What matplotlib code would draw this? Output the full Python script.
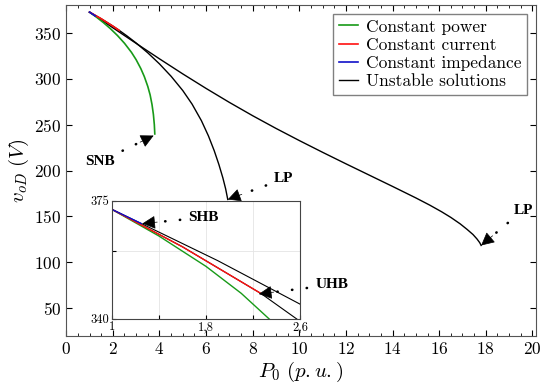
import numpy as np
import matplotlib.pyplot as plt
from matplotlib.lines import Line2D

plt.rcParams['font.family'] = 'serif'
plt.rcParams['font.serif'] = ['cmr10', 'DejaVu Serif']
plt.rcParams['mathtext.fontset'] = 'cm'
plt.rcParams['axes.formatter.use_mathtext'] = True

# main curves: P0 (p.u.) and v_oD (V)
p_cp = [1.0, 1.3, 1.6, 1.9, 2.2, 2.5, 2.8, 3.0, 3.2, 3.35, 3.5, 3.6, 3.68, 3.74, 3.78, 3.80]
v_cp = [372.3, 366.8, 360.8, 354.2, 346.8, 338.4, 328.5, 320.5, 310.9, 302.2, 291.4, 282.2,
        271.8, 261.0, 249.8, 239.8]

p_ci = [1.0, 1.5, 2.0, 2.27, 2.6, 3.0, 3.5, 4.0, 4.5, 5.0, 5.4, 5.8, 6.1, 6.35, 6.55, 6.72,
        6.84, 6.93]
v_ci = [372.3, 365.1, 357.1, 352.5, 346.5, 338.7, 328.0, 316.0, 302.5, 287.0, 272.2, 254.2,
        237.7, 221.5, 206.5, 192.0, 180.0, 168.5]
ci_stable = 4  # points up to UHB

p_cz = [1.0, 1.25, 2, 3, 4, 5, 6, 7, 8, 9, 10, 11, 12, 13, 14, 15, 15.6, 16.1, 16.5, 16.9,
        17.2, 17.45, 17.62, 17.74, 17.8]
v_cz = [372.3, 368.1, 355.3, 338.3, 321.5, 305.1, 289.3, 274.1, 259.6, 245.8, 232.6, 219.8,
        207.3, 195.0, 182.7, 170.2, 162.3, 155.2, 149.0, 142.0, 135.9, 130.4, 125.6, 121.5, 118.5]
cz_stable = 2  # points up to SHB

# inset (zoom near P0 = 1)
ins_p_cp = [1.0, 1.4, 1.8, 2.1, 2.35]
ins_v_cp = [372.4, 364.5, 355.5, 347.5, 339.5]
ins_p_ci = [1.0, 1.6, 2.27, 2.6]
ins_v_ci = [372.4, 361.3, 347.4, 339.2]
ins_p_cz = [1.0, 1.25, 1.9, 2.6]
ins_v_cz = [372.4, 368.2, 357.2, 344.3]

green = '#189a18'
red = '#ff1010'
blue = '#1010c8'

fig = plt.figure(figsize=(5.5, 3.88), dpi=100)
ax = fig.add_axes([0.1204, 0.134, 0.854, 0.853])

ax.plot(p_ci, v_ci, color='k', lw=1.0)
ax.plot(p_cz, v_cz, color='k', lw=1.0)
ax.plot(p_cp, v_cp, color=green, lw=1.2)
ax.plot(p_ci[:ci_stable], v_ci[:ci_stable], color=red, lw=1.2)
ax.plot(p_cz[:cz_stable], v_cz[:cz_stable], color=blue, lw=1.2)

ax.set_xlim(0, 20.15)
ax.set_ylim(20, 380)
ax.set_xticks(np.arange(0, 21, 2))
ax.set_xticks(np.arange(0, 20.1, 0.5), minor=True)
ax.set_yticks(np.arange(50, 351, 50))
ax.tick_params(direction='in', which='both', top=True, right=True, labelsize=12.5)
ax.tick_params(which='major', length=4)
ax.tick_params(which='minor', length=2)
for s in ax.spines.values():
    s.set_color('#555555')
ax.set_xlabel(r'$P_0\ (p.u.)$', fontsize=15, labelpad=2)
ax.set_ylabel(r'$v_{oD}\ (V)$', fontsize=15, labelpad=2)

handles = [Line2D([], [], color=green, lw=1.2), Line2D([], [], color=red, lw=1.2),
           Line2D([], [], color=blue, lw=1.2), Line2D([], [], color='k', lw=1.0)]
labels = ['Constant power', 'Constant current', 'Constant impedance', 'Unstable solutions']
leg = ax.legend(handles, labels, loc='upper right', bbox_to_anchor=(0.981, 0.973),
                borderaxespad=0, fontsize=12.5, labelspacing=0.16, handlelength=1.15,
                handletextpad=0.45, borderpad=0.3, fancybox=False, framealpha=1)
leg.get_frame().set_edgecolor('#808080')
leg.get_frame().set_linewidth(1.0)

bold = dict(family='Liberation Serif', fontweight='bold', fontsize=11,
            ha='center', va='center')


def mark(a, text, tip, txt):
    # dotted leader from the label, solid head at the tip
    a.annotate(text, xy=tip, xytext=txt, annotation_clip=False,
               arrowprops=dict(arrowstyle='-', color='k', linestyle=(0, (0.1, 5.5)),
                               linewidth=1.9, capstyle='round', shrinkA=4, shrinkB=13),
               **bold)
    t = np.array(a.transData.transform(tip))
    s = np.array(a.transData.transform(txt))
    d = (s - t) / np.hypot(*(s - t)) * 15 * 0.72
    a.annotate('', xy=tip, xytext=(d[0], d[1]), textcoords='offset points',
               annotation_clip=False,
               arrowprops=dict(arrowstyle='-|>,head_length=0.75,head_width=0.38', color='k',
                               lw=0.5, shrinkA=0, shrinkB=0, mutation_scale=11))


mark(ax, 'SNB', (3.75, 238), (1.45, 209.6))
mark(ax, 'LP', (6.93, 168.5), (9.33, 190.8))
mark(ax, 'LP', (17.8, 118.5), (19.6, 157))

# inset
axi = fig.add_axes([0.2036, 0.1789, 0.3418, 0.3039])
axi.plot(ins_p_ci, ins_v_ci, color='k', lw=0.8)
axi.plot(ins_p_cz, ins_v_cz, color='k', lw=0.8)
axi.plot(ins_p_cp, ins_v_cp, color=green, lw=1.0)
axi.plot(ins_p_ci[:3], ins_v_ci[:3], color=red, lw=1.0)
axi.plot(ins_p_cz[:2], ins_v_cz[:2], color=blue, lw=1.0)
axi.set_xlim(1, 2.6)
axi.set_ylim(340, 375)
axi.set_xticks([1, 1.4, 1.8, 2.2, 2.6])
axi.set_xticklabels(['1', '', '1,8', '', '2,6'])
axi.set_yticks([340, 360, 375])
axi.set_yticklabels(['340', '', '375'])
axi.grid(True, color='#e4e4e4', lw=0.6)
axi.tick_params(direction='in', labelsize=9, length=3, pad=2)
for s in axi.spines.values():
    s.set_color('#444444')

mark(axi, 'SHB', (1.258, 368.2), (1.78, 370))
mark(axi, 'UHB', (2.25, 347.3), (2.87, 350))

fig.savefig('out.png', dpi=100)
